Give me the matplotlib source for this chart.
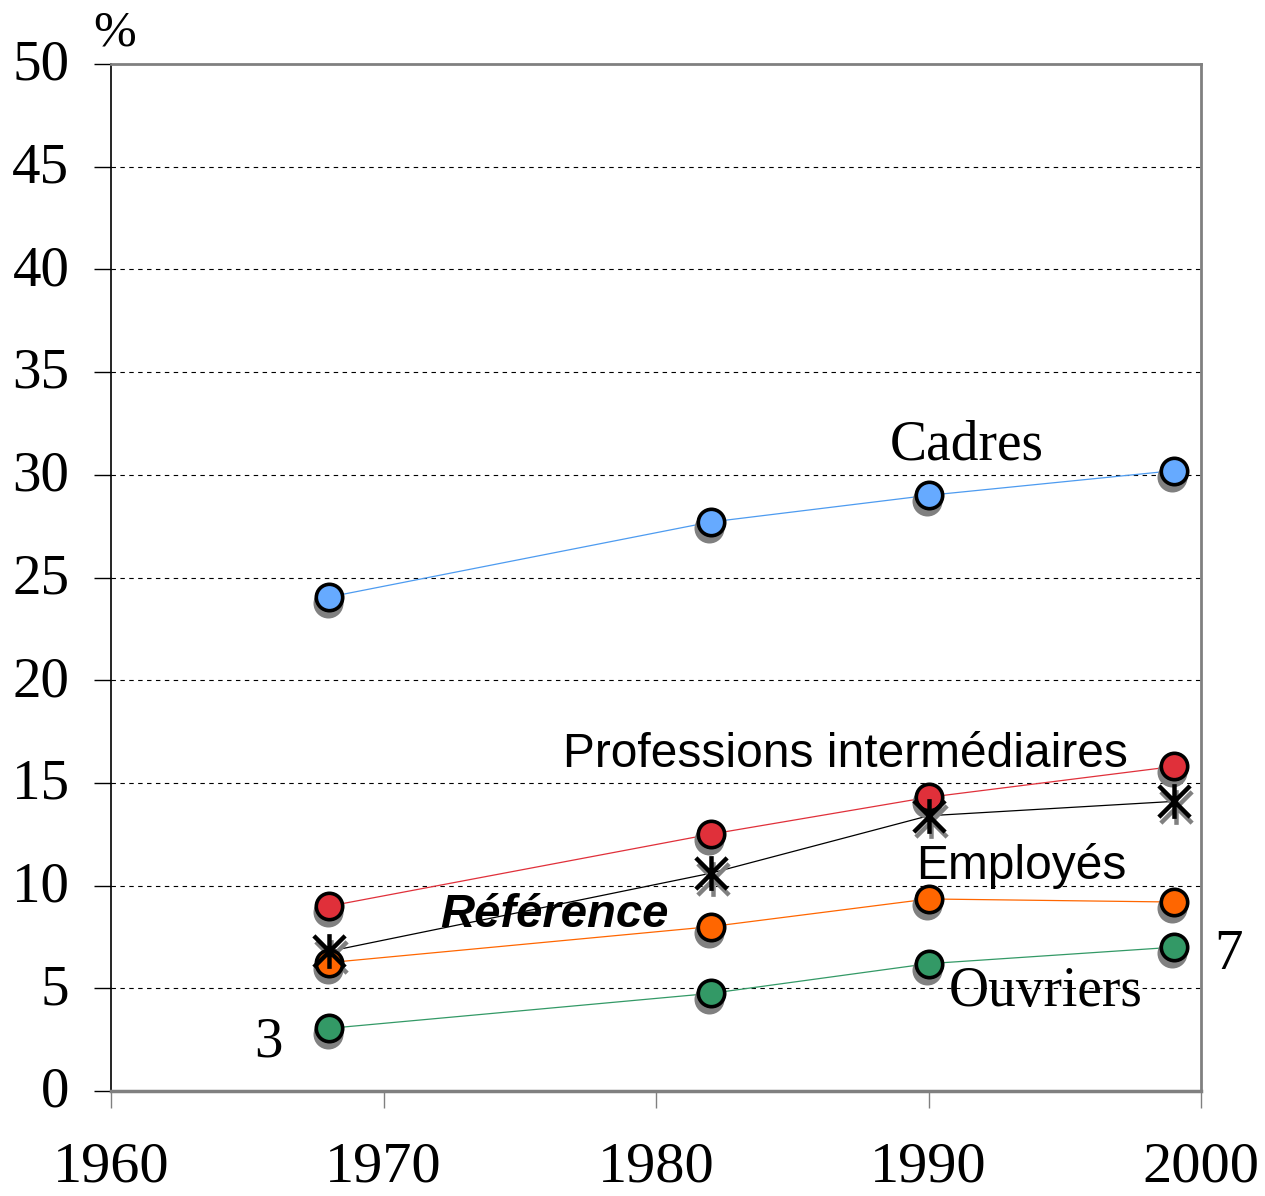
import matplotlib
matplotlib.use("Agg")
import matplotlib.pyplot as plt
import matplotlib.transforms as mtransforms
from matplotlib.path import Path

years = [1968, 1982, 1990, 1999]
cadres = [24.05, 27.7, 29.0, 30.2]
prof_inter = [9.0, 12.5, 14.3, 15.8]
reference = [6.8, 10.6, 13.4, 14.1]
employes = [6.25, 8.0, 9.35, 9.2]
ouvriers = [3.05, 4.75, 6.2, 7.0]

x_ticks = [1960, 1970, 1980, 1990, 2000]
y_ticks = [0, 5, 10, 15, 20, 25, 30, 35, 40, 45, 50]

serif = ["Liberation Serif", "DejaVu Serif"]
sans = ["Liberation Sans", "DejaVu Sans"]

# asterisk marker: vertical bar plus an X
ast = Path([(0, -1), (0, 1), (-0.9, -0.9), (0.9, 0.9), (-0.9, 0.9), (0.9, -0.9)],
           [Path.MOVETO, Path.LINETO, Path.MOVETO, Path.LINETO, Path.MOVETO, Path.LINETO])

fig = plt.figure(figsize=(12.65, 11.96), dpi=100)
ax = fig.add_axes([111 / 1265, 105 / 1196, (1201 - 111) / 1265, (1091 - 64) / 1196])
ax.set_xlim(1960, 2000)
ax.set_ylim(0, 50)

shadow_c = mtransforms.offset_copy(ax.transData, fig=fig, x=-1.0, y=-4.3, units="points")
shadow_a = mtransforms.offset_copy(ax.transData, fig=fig, x=1.5, y=-3.8, units="points")

series = [
    (cadres, "#66AAFF", "#4D9BF0"),
    (prof_inter, "#E0303A", "#E0303A"),
    (employes, "#FF6600", "#FF6600"),
    (ouvriers, "#339966", "#339966"),
]

ms = 19.0
mew = 2.6
ams = 25
for vals, fc, lc in series:
    ax.plot(years, vals, linestyle="none", marker="o", markersize=ms,
            markerfacecolor="#808080", markeredgecolor="#808080",
            markeredgewidth=mew, transform=shadow_c, zorder=3, clip_on=False)
ax.plot(years, reference, linestyle="none", marker=ast, markersize=ams,
        markeredgecolor="#808080", markeredgewidth=3.2, transform=shadow_a,
        zorder=3, clip_on=False)

for vals, fc, lc in series:
    ax.plot(years, vals, color=lc, linewidth=0.9, zorder=2)
    ax.plot(years, vals, linestyle="none", marker="o", markersize=ms,
            markerfacecolor=fc, markeredgecolor="black",
            markeredgewidth=mew, zorder=4, clip_on=False)
ax.plot(years, reference, color="black", linewidth=0.9, zorder=2)
ax.plot(years, reference, linestyle="none", marker=ast, markersize=ams,
        markeredgecolor="black", markeredgewidth=3.2, zorder=5, clip_on=False)

# grid
for yv in y_ticks[1:-1]:
    ax.axhline(yv, color="black", linewidth=0.8, linestyle=(0, (4, 4)), zorder=1)

for s in ["top", "right", "bottom"]:
    ax.spines[s].set_color("#808080")
    ax.spines[s].set_linewidth(2)
ax.spines["bottom"].set_linewidth(2.5)
ax.spines["left"].set_color("black")
ax.spines["left"].set_linewidth(1.2)

ax.set_xticks(x_ticks)
ax.set_yticks(y_ticks)
ax.set_xticklabels([str(v) for v in x_ticks], family=serif, fontsize=42)
ax.set_yticklabels([str(v) for v in y_ticks], family=serif, fontsize=41)
ax.tick_params(axis="x", direction="out", length=12, width=1, color="#808080", pad=24)
ax.tick_params(axis="y", direction="out", length=12, width=1, color="black", pad=18)

up = mtransforms.ScaledTranslation(0, 3 / 72, fig.dpi_scale_trans)
for lbl in ax.get_yticklabels():
    lbl.set_transform(lbl.get_transform() + up)

ax.text(1960.15, 51.5, "%", family=serif, fontsize=37, ha="center", va="center", clip_on=False)
ax.text(1991.4, 31.45, "Cadres", family=serif, fontsize=40, ha="center", va="center")
ax.text(1986.97, 16.36, "Professions intermédiaires", family=sans, fontsize=34.5, ha="center", va="center")
ax.text(1993.4, 10.95, "Employés", family=sans, fontsize=34.5, ha="center", va="center")
ax.text(1976.26, 8.57, "Référence", family=sans, fontsize=34, fontweight="bold",
        fontstyle="italic", ha="center", va="center")
ax.text(1994.3, 4.82, "Ouvriers", family=serif, fontsize=40, ha="center", va="center")
ax.text(1965.76, 2.34, "3", family=serif, fontsize=41, ha="center", va="center")
ax.text(2001.0, 6.62, "7", family=serif, fontsize=41, ha="center", va="center", clip_on=False)

fig.savefig("out.png", dpi=100)
